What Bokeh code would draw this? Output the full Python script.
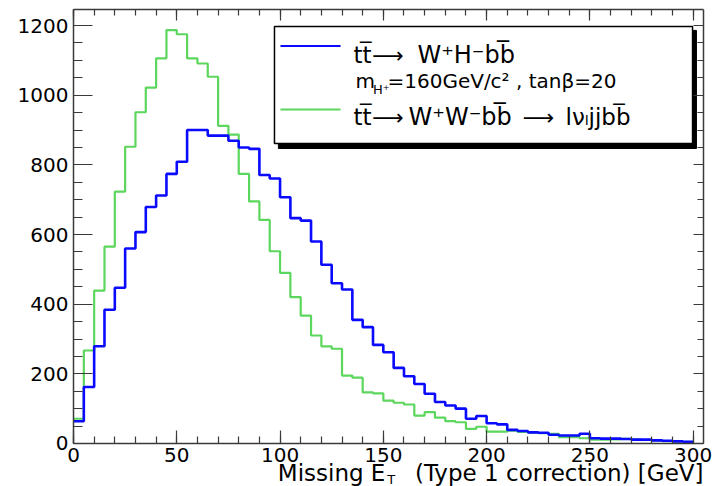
import numpy as np
from bokeh.plotting import figure
from bokeh.models import Range1d, LinearAxis, SingleIntervalTicker, Label
from bokeh.embed import file_html
from bokeh.resources import INLINE

# ---- data (events per 5 GeV bin, 0..300 GeV) ----
bin_width = 5
x_min, x_max = 0, 300
signal_counts = [64, 162, 279, 384, 447, 560, 607, 679, 712, 774, 809, 900, 900, 884, 884,
                 869, 850, 846, 771, 761, 707, 647, 640, 580, 513, 460, 442, 355, 334, 283,
                 262, 217, 193, 171, 143, 119, 109, 100, 71, 79, 58, 55, 39, 36, 32,
                 31, 25, 23, 23, 28, 15, 14, 14, 13, 11, 11, 9, 8, 6, 5]
background_counts = [71, 267, 439, 565, 723, 852, 951, 1022, 1106, 1187, 1175, 1106, 1091, 1053, 912,
                     887, 774, 695, 642, 552, 490, 420, 367, 310, 279, 272, 195, 189, 147, 144,
                     123, 117, 112, 80, 90, 74, 64, 61, 42, 48, 34, 34, 37, 33, 31,
                     30, 28, 18, 18, 15, 11, 11, 12, 13, 12, 10, 8, 7, 6, 5]
x_ticks_interval = 50
y_ticks_interval = 200
x_frame_max = 305
y_top = 1246

edges = np.arange(x_min, x_max + bin_width, bin_width)
sig_y = list(signal_counts) + [signal_counts[-1]]
bkg_y = list(background_counts) + [background_counts[-1]]

BLUE = "#0a0aff"
GREEN = "#5cd65c"
AXC = "#3a3a3a"
FONT = "DejaVu Sans"

# the drawing area covers the whole canvas; axes are pinned at the frame edges
p = figure(width=714, height=486, output_backend="svg", toolbar_location=None,
           title_location=None,
           x_range=Range1d(-35.34, 310.33), y_range=Range1d(-123.5, 1271.9),
           min_border_left=0, min_border_right=0, min_border_top=0, min_border_bottom=0,
           x_axis_location=None, y_axis_location=None)
p.min_border = 0
p.outline_line_color = None
p.xgrid.visible = False
p.ygrid.visible = False
p.background_fill_color = "white"
p.border_fill_color = "white"


def make_axis(interval, minors, labels, mj_in, mn_in, **kw):
    ax = LinearAxis(ticker=SingleIntervalTicker(interval=interval, num_minor_ticks=minors), **kw)
    ax.axis_line_color = AXC
    ax.axis_line_width = 1.5
    ax.major_tick_line_color = AXC
    ax.minor_tick_line_color = AXC
    ax.major_tick_line_width = 1.2
    ax.minor_tick_line_width = 1.2
    ax.major_tick_in = mj_in
    ax.major_tick_out = 0
    ax.minor_tick_in = mn_in
    ax.minor_tick_out = 0
    ax.major_label_text_font = FONT
    ax.major_label_text_font_size = "20px"
    ax.major_label_text_color = "black"
    ax.major_label_standoff = 5
    if not labels:
        ax.major_label_text_alpha = 0.0
    return ax


bottom = make_axis(x_ticks_interval, 5, True, 13, 7, fixed_location=0, bounds=(0, x_frame_max))
left = make_axis(y_ticks_interval, 4, True, 19, 9, fixed_location=0, bounds=(0, y_top))
top = make_axis(x_ticks_interval, 5, False, 11, 6, fixed_location=y_top, bounds=(0, x_frame_max))
right = make_axis(y_ticks_interval, 4, False, 10, 6, fixed_location=x_frame_max, bounds=(0, y_top))
top.major_label_overrides = {v: "" for v in range(0, 301, x_ticks_interval)}
right.major_label_overrides = {v: "" for v in range(0, 1201, y_ticks_interval)}
p.add_layout(bottom, "below")
p.add_layout(left, "left")
p.add_layout(top, "above")
p.add_layout(right, "right")

# histograms
p.step(edges, bkg_y, mode="after", line_color=GREEN, line_width=2.2)
p.step(edges, sig_y, mode="after", line_color=BLUE, line_width=2.6)

# ---- legend box (drawn by hand) ----
p.quad(left=[99.2], right=[301.6], top=[1186], bottom=[847], fill_color="black", line_color="black")
p.quad(left=[97.3], right=[299.7], top=[1197], bottom=[861], fill_color="white",
       line_color="black", line_width=1.5)
p.line([100.2, 129.3], [1141, 1141], line_color=BLUE, line_width=2)
p.line([100.2, 129.3], [959, 959], line_color=GREEN, line_width=2)

OL = "\u0305"  # combining overline


def lab(x, y, text, size, align="left"):
    p.add_layout(Label(x=x, y=y, text=text, text_font=FONT, text_font_size=size,
                       text_color="black", text_baseline="alphabetic", text_align=align))


# row 1
lab(135.6, 1114, "tt" + OL, "23px")
lab(144.6, 1114, "\u27f6", "22px")
lab(166.5, 1114, "W\u207aH\u207bbb" + OL, "24px")
# row 2
lab(136.5, 1042, "m", "20px")
lab(145.0, 1015, "H\u207a", "13px")
lab(152.0, 1042, "=160GeV/c\u00b2 , tan\u03b2=20", "20px")
# row 3
lab(135.6, 937, "tt" + OL, "23px")
lab(144.6, 937, "\u27f6", "22px")
lab(162.2, 937, "W\u207aW\u207bbb" + OL, "24px")
lab(217.5, 937, "\u27f6", "22px")
lab(238.2, 937, "l\u03bd\u2097jjbb" + OL, "23px")

# x-axis title (right aligned, with subscript)
lab(151.0, -86.0, "Missing E", "23px", align="right")
lab(151.9, -102.0, "T", "13px")
lab(305.0, -86.0, "(Type 1 correction) [GeV]", "23px", align="right")

open("out.html", "w").write(file_html(p, INLINE))
